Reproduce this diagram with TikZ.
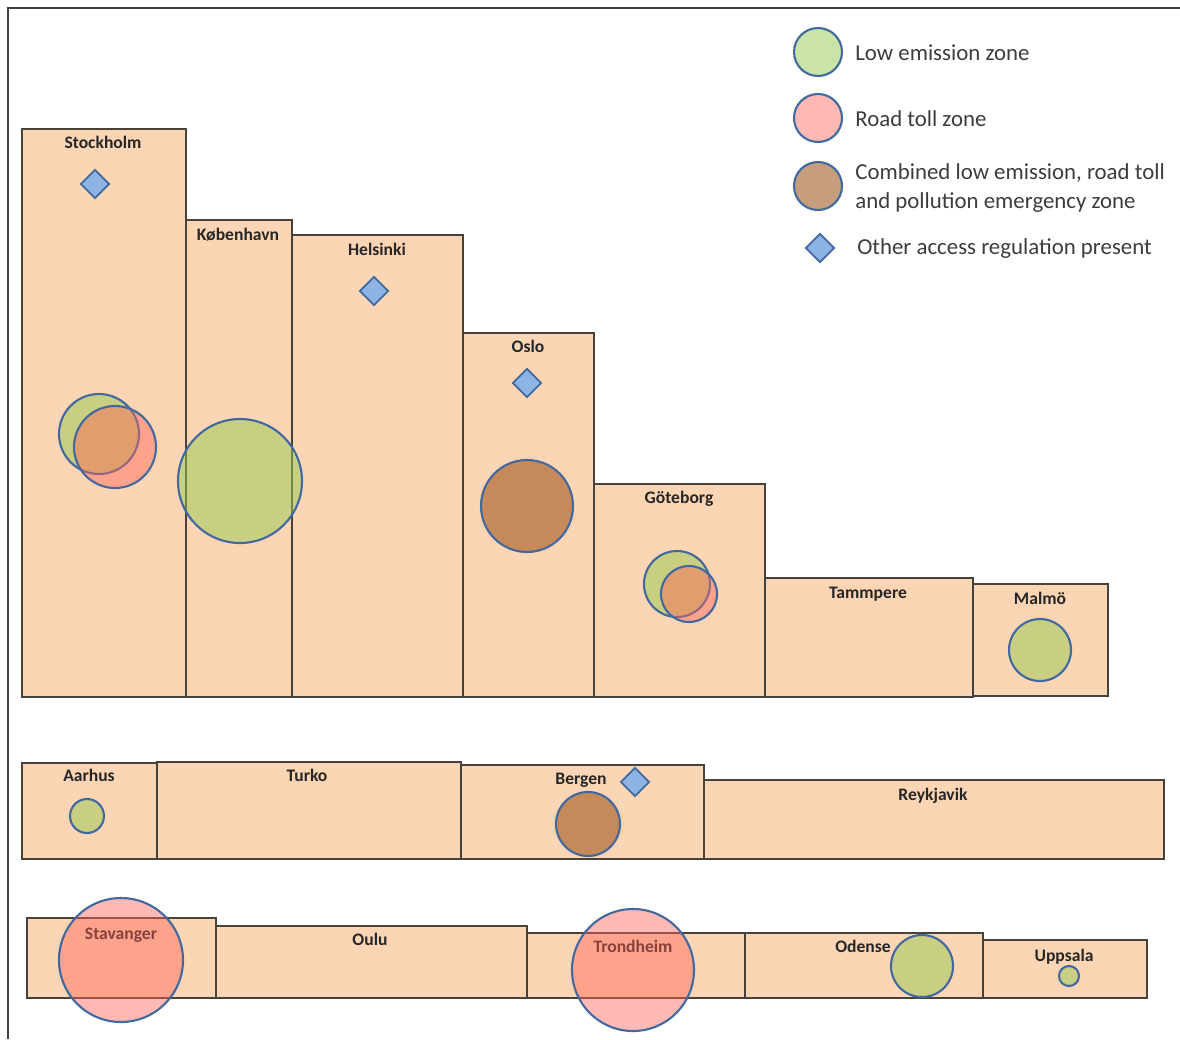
\documentclass[tikz,border=0pt]{standalone}
\usepackage{fontspec}
\setmainfont{Carlito}
\usepackage{tikz}
\usetikzlibrary{shapes.geometric}
\definecolor{peach}{RGB}{252,213,181}
\definecolor{edgegray}{RGB}{72,66,60}
\definecolor{ringblue}{RGB}{65,105,160}
\definecolor{lezgreen}{RGB}{150,200,80}
\definecolor{tollpink}{RGB}{255,100,90}
\definecolor{mixbrown}{RGB}{150,72,10}
\definecolor{regfill}{RGB}{142,180,227}
\definecolor{legendtext}{RGB}{60,60,60}

\begin{document}
\begin{tikzpicture}[x=0.02cm, y=-0.02cm,
		frame/.style={draw=black!75, line width=1.1pt},
		zone/.style={fill=peach, draw=edgegray, line width=0.8pt},
		city/.style={font=\fontsize{10}{12}\selectfont\bfseries, text=black!85, anchor=base, inner sep=0pt},
		lez/.style={fill=lezgreen, fill opacity=0.5, draw=ringblue, line width=1.2pt},
		toll/.style={fill=tollpink, fill opacity=0.45, draw=ringblue, line width=1.2pt},
		combined/.style={fill=mixbrown, fill opacity=0.53, draw=ringblue, line width=1.2pt},
		accessreg/.style={diamond, draw=ringblue, fill=regfill, line width=1pt, minimum width=0.58cm, minimum height=0.58cm, inner sep=0pt},
		legendlabel/.style={font=\fontsize{13}{16}\selectfont, text=legendtext, anchor=west, align=left, inner sep=0pt}]
		\useasboundingbox (0,0) rectangle (1180,1039);
		
		% frame round the chart (left and top only)
		\draw[frame] (8,1039) -- (8,8) -- (1180,8);
		
		% first row of city blocks
		\draw[zone] (22,129) rectangle (186,697);
		\draw[zone] (186,220) rectangle (292,697);
		\draw[zone] (292,235) rectangle (463,697);
		\draw[zone] (463,333) rectangle (594,697);
		\draw[zone] (594,484) rectangle (765,697);
		\draw[zone] (765,578) rectangle (973,697);
		\draw[zone] (973,584) rectangle (1108,696);
		
		% second row
		\draw[zone] (22,763) rectangle (157,859);
		\draw[zone] (157,762) rectangle (461,859);
		\draw[zone] (461,765) rectangle (704,859);
		\draw[zone] (704,780) rectangle (1164,859);
		
		% third row
		\draw[zone] (27,918) rectangle (216,998);
		\draw[zone] (216,926) rectangle (527,998);
		\draw[zone] (527,933) rectangle (745,998);
		\draw[zone] (745,933) rectangle (983,998);
		\draw[zone] (983,940) rectangle (1147,998);
		
		% city names
		\node[city] (stockholm) at (103,148) {Stockholm};
		\node[city] (kobenhavn) at (238,240) {København};
		\node[city] (helsinki) at (377,255) {Helsinki};
		\node[city] (oslo) at (528,352) {Oslo};
		\node[city] (goteborg) at (679,503) {Göteborg};
		\node[city] (tammpere) at (868,598) {Tammpere};
		\node[city] (malmo) at (1040,604) {Malmö};
		\node[city] (aarhus) at (89,781) {Aarhus};
		\node[city] (turko) at (307,781) {Turko};
		\node[city] (bergen) at (581,784) {Bergen};
		\node[city] (reykjavik) at (933,800) {Reykjavik};
		\node[city] (stavanger) at (121,939) {Stavanger};
		\node[city] (oulu) at (370,945) {Oulu};
		\node[city] (trondheim) at (633,952) {Trondheim};
		\node[city] (odense) at (863,952) {Odense};
		\node[city] (uppsala) at (1064,961) {Uppsala};
		
		% zones, sized by area
		\draw[lez] (99,434) circle (40);
		\draw[toll] (115,447) circle (41);
		\draw[lez] (240,481) circle (62);
		\draw[combined] (527,506) circle (46);
		\draw[lez] (677,584) circle (33);
		\draw[toll] (689,594) circle (28);
		\draw[lez] (1040,650) circle (31);
		\draw[lez] (87,816) circle (17);
		\draw[combined] (588,824) circle (32);
		\draw[toll] (121,960) circle (62);
		\draw[toll] (633,970) circle (61);
		\draw[lez] (922,966) circle (31);
		\draw[lez] (1069,976) circle (10);
		
		% other access regulation
		\node[accessreg] (stockholmreg) at (95,184) {};
		\node[accessreg] (helsinkireg) at (374,291) {};
		\node[accessreg] (osloreg) at (527,383) {};
		\node[accessreg] (bergenreg) at (635,782) {};
		
		% legend
		\draw[lez] (818,52) circle (24);
		\draw[toll] (818,118) circle (24);
		\draw[combined] (818,186) circle (24);
		\node[accessreg] (legendreg) at (820,248) {};
		\node[legendlabel] (lezlabel) at (855,53) {Low emission zone};
		\node[legendlabel] (tolllabel) at (855,119) {Road toll zone};
		\node[legendlabel] (mixlabel) at (855,188) {Combined low emission, road toll\\and pollution emergency zone};
		\node[legendlabel] (reglabel) at (857,249) {Other access regulation present};
	\end{tikzpicture}
\end{document}
